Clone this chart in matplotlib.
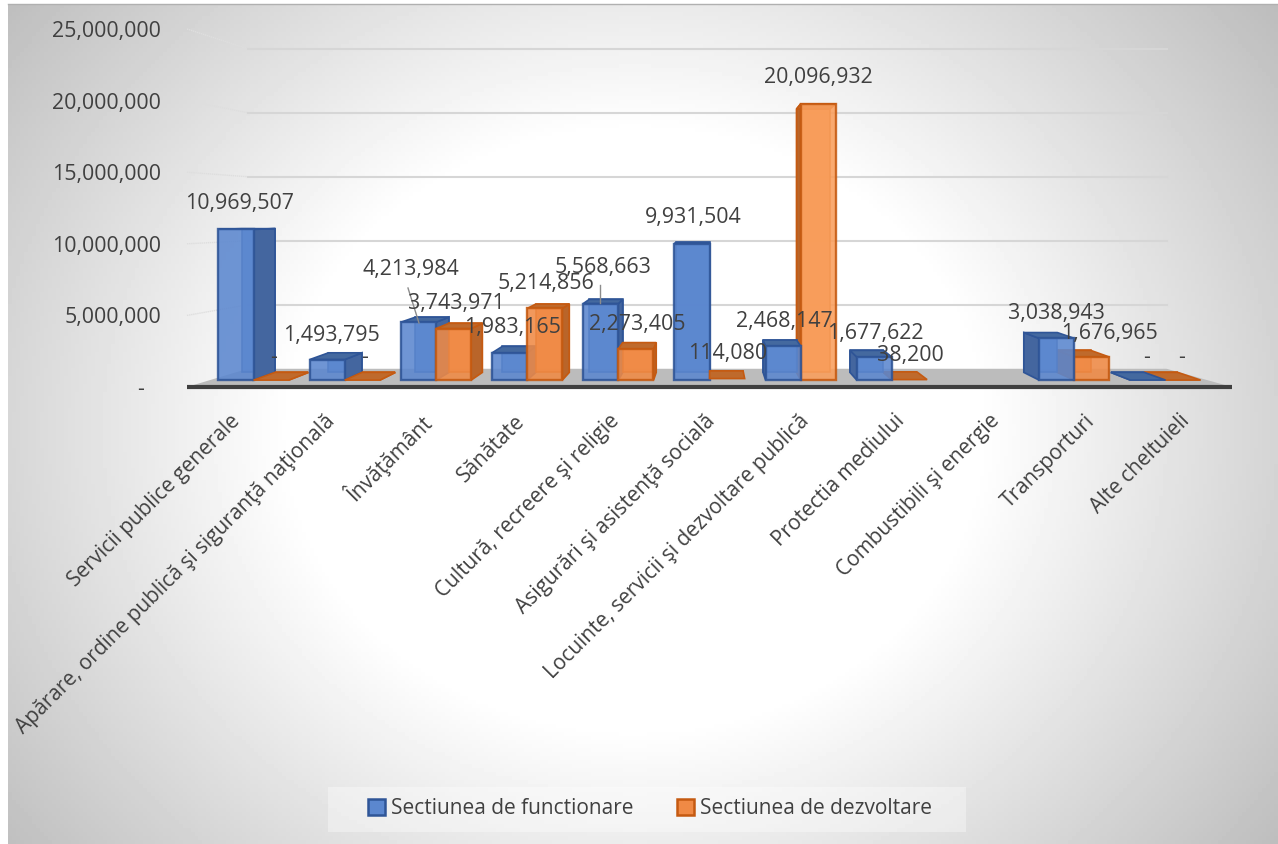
#!/usr/bin/env python3
"""Buget pe capitole: coloane 3D (sectiunea de functionare / dezvoltare), desenate in perspectiva."""
import numpy as np
import matplotlib
matplotlib.use("Agg")
import matplotlib.pyplot as plt
from matplotlib.patches import Patch, Polygon, Rectangle

plt.rcParams["font.family"] = ["Open Sans", "Noto Sans", "DejaVu Sans"]

categories = [
    "Servicii publice generale",
    "Apărare, ordine publică şi siguranţă naţională",
    "Învăţământ",
    "Sănătate",
    "Cultură, recreere şi religie",
    "Asigurări şi asistenţă socială",
    "Locuinte, servicii şi dezvoltare publică",
    "Protectia mediului",
    "Combustibili şi energie",
    "Transporturi",
    "Alte cheltuieli",
]
functionare = [10969507, 1493795, 4213984, 1983165, 5568663, 9931504, 2468147, 1677622, None, 3038943, 0]
dezvoltare = [0, 0, 3743971, 5214856, 2273405, 114080, 20096932, 38200, None, 1676965, 0]
y_ticks = [0, 5000000, 10000000, 15000000, 20000000, 25000000]

# centrele etichetelor, in pixeli (puse manual in original)
label_px_functionare = [(240, 204), (331, 335), (411, 269), (512, 328), (603, 267), (693, 218), (784, 322), (875, 333), None, (1056, 313), (1147, 357)]
label_px_dezvoltare = [(274, 357), (365, 357), (456, 304), (546, 284), (637, 324), (728, 354), (818, 77), (910, 355), None, (1109, 333), (1182, 357)]

W, H = 1278, 844
TEXT = "#404040"
BLUE = dict(front="#5b87cf", side="#44669f", top="#44699f", edge="#2f5597")
ORANGE = dict(front="#f08a45", side="#b9652a", top="#bf6a2c", edge="#c55a11")

fig = plt.figure(figsize=(W / 100, H / 100), dpi=100, facecolor="white")


def px_x(x):
    return x / W


def px_y(y):
    return 1 - y / H


# fundal: gradient radial gri-alb, cu centrul alb larg
bg = fig.add_axes([px_x(8), 0, 1 - px_x(8), px_y(4)], zorder=0)
xx, yy = np.meshgrid(np.linspace(8, W, 320), np.linspace(4, H, 210))
dist = np.hypot((xx - 635) / 640, (yy - 430) / 555)
bg.imshow(np.clip(1 - 0.36 * (dist - 0.54), 0, 1), cmap="gray", vmin=0, vmax=1, aspect="auto")
bg.axis("off")
fig.add_artist(plt.Line2D([px_x(8), 1], [px_y(4), px_y(4)], color="#b0b0b0", lw=1.0))

# axa principala: planul din fata al peretelui lateral
ax = fig.add_axes([px_x(187), px_y(387), (1232 - 187) / W, (387 - 29) / H], zorder=1)
ax.patch.set_alpha(0)
ax.set_xlim(-0.5, 10.5)
ax.set_ylim(0, 25000000)
for s in ax.spines.values():
    s.set_visible(False)

# punctul de fuga, din pixeli in coordonatele axei
VX = -0.5 + (711 - 187) / (1232 - 187) * 11
VY = (387 - 215) / (387 - 29) * 25000000
S_FRONT, S_BACK, S_WALL = 0.96, 0.915, 0.894
BAR_W = 0.385
WALL_L, WALL_R = -0.44, 10.38  # capetele grilei pe peretele din spate


def proj(x, y, s):
    return VX + s * (x - VX), VY + s * (y - VY)


def face(pts, s_list, **kw):
    xy = [proj(p[0], p[1], s) for p, s in zip(pts, s_list)]
    ax.add_patch(Polygon(xy, closed=True, clip_on=False, **kw))


# podeaua si grila
face([(-0.5, 0), (10.5, 0), (WALL_R, 0), (WALL_L, 0)], [1, 1, S_WALL, S_WALL], facecolor="#bcbcbc", edgecolor="none", zorder=1)
for t in y_ticks[1:]:
    x0, y0 = proj(-0.5, t, 1)
    x1, y1 = proj(WALL_L, t, S_WALL)
    x2, y2 = proj(WALL_R, t, S_WALL)
    ax.plot([x0, x1], [y0, y1], color="#dedede", lw=1.0, ls=(0, (1, 0.5)), clip_on=False, zorder=1)
    ax.plot([x1, x2], [y1, y2], color="#d6d6d6", lw=1.5, clip_on=False, zorder=1)
ax.plot([-0.5, 10.5], [0, 0], color="#3f3f3f", lw=3.0, clip_on=False, zorder=2, solid_capstyle="butt")


def draw_box(left, val, col, z):
    right = left + BAR_W
    # fetele din spate si muchiile interioare se vad prin sticla
    face([(left, 0), (right, 0), (right, val), (left, val)], [S_BACK] * 4, facecolor=col["front"], edgecolor=col["edge"], lw=1.2, alpha=0.9, zorder=z)
    # fata laterala: spre punctul de fuga
    side = right if right < VX else left
    if abs(side - VX) > 0.03:
        face([(side, 0), (side, 0), (side, val), (side, val)], [S_FRONT, S_BACK, S_BACK, S_FRONT], facecolor=col["side"], edgecolor=col["edge"], lw=1.3, zorder=z + 0.1)
    # capacul
    face([(left, val), (right, val), (right, val), (left, val)], [S_FRONT, S_FRONT, S_BACK, S_BACK], facecolor=col["top"], edgecolor=col["edge"], lw=1.2, zorder=z + 0.1)
    # fata din fata, prin bar
    fx, fy = proj(left, 0, S_FRONT)
    if val > 200000:
        fc = "#fa9f5c" if val > 15000000 else col["front"]
        ax.bar(fx, val * S_FRONT, width=BAR_W * S_FRONT, bottom=fy, align="edge", color=fc, edgecolor=col["edge"], linewidth=1.7, alpha=0.88, zorder=z + 0.2, clip_on=False)


for i in range(len(categories)):
    if functionare[i] is None:
        continue
    # la dreapta punctului de fuga albastrul acopera fata laterala portocalie
    z_blue, z_orange = (3 + i, 3.5 + i) if i < VX else (3.5 + i, 3 + i)
    draw_box(i - BAR_W, functionare[i], BLUE, z_blue)
    draw_box(i, dezvoltare[i], ORANGE, z_orange)

# axele
ax.set_xticks(np.arange(len(categories)) - 0.057, categories, rotation=45, ha="right", rotation_mode="anchor", fontsize=15, color=TEXT)
ax.set_yticks(y_ticks, ["-   " if t == 0 else f"{t:,}" for t in y_ticks], fontsize=15.4, color=TEXT)
ax.tick_params(axis="y", length=0, pad=18.7)
ax.tick_params(axis="x", length=0, pad=17)

# etichete de valori
for vals, pos in ((functionare, label_px_functionare), (dezvoltare, label_px_dezvoltare)):
    for v, p in zip(vals, pos):
        if v is None:
            continue
        txt = "-" if v == 0 else f"{v:,}"
        fig.text(px_x(p[0]), px_y(p[1]), txt, ha="center", va="center", fontsize=15.4, color=TEXT, zorder=5)

# linii de legatura
for (xa, ya), (xb, yb) in (((408, 288), (419, 323)), ((600, 285), (600, 303))):
    fig.add_artist(plt.Line2D([px_x(xa), px_x(xb)], [px_y(ya), px_y(yb)], color="#8c8c8c", lw=1.0, zorder=5))

# legenda: caseta desenata separat, ca sa aiba exact marimea din original
fig.add_artist(Rectangle((px_x(328), px_y(832)), (966 - 328) / W, (832 - 787) / H, transform=fig.transFigure,
                         facecolor="white", alpha=0.35, edgecolor="none", zorder=2))
fig.legend(
    handles=[Patch(facecolor=BLUE["front"], edgecolor=BLUE["edge"], lw=1.8, label="Sectiunea de functionare"),
             Patch(facecolor=ORANGE["front"], edgecolor=ORANGE["edge"], lw=1.8, label="Sectiunea de dezvoltare")],
    ncol=2, loc="center", bbox_to_anchor=(px_x(650), px_y(809)), fontsize=15, labelcolor=TEXT,
    handlelength=0.8, handleheight=0.8, handletextpad=0.3, columnspacing=2.1, frameon=False,
)

fig.savefig("out.png", dpi=100)
